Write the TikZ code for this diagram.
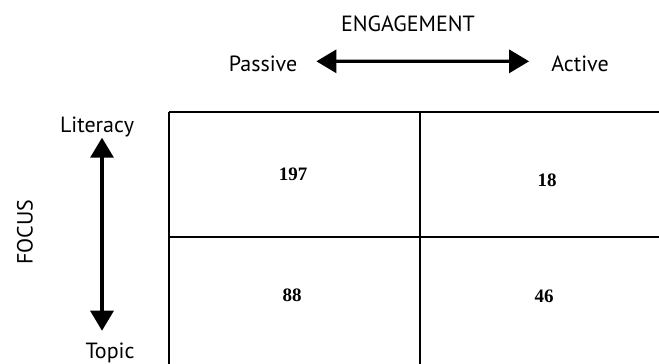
\documentclass[tikz,border=0pt]{standalone}
\usepackage{fontspec}
\setmainfont{PT Sans}
\newfontfamily\numfont{Liberation Serif}
\usetikzlibrary{arrows.meta}

\begin{document}
\begin{tikzpicture}[x=1pt,y=1pt,
    lbl/.style={inner sep=0pt,font=\fontsize{22}{26}\selectfont},
    num/.style={inner sep=0pt,font=\numfont\bfseries\fontsize{19}{22}\selectfont},
    dblarrow/.style={line width=3.3pt,{Triangle[length=20pt,width=23pt]}-{Triangle[length=20pt,width=23pt]}}]
  \useasboundingbox (0,0) rectangle (659,364);
  \clip (0,0) rectangle (659,364);

  % the grid, cut off on the right and at the bottom
  \draw[line width=1.8pt] (169,252) -- (690,252);
  \draw[line width=1.8pt] (169,127) -- (690,127);
  \draw[line width=1.8pt] (169,252) -- (169,-20);
  \draw[line width=1.8pt] (420,252) -- (420,-20);

  \node (n197) at (293,190)[num]{197};
  \node (n18) at (547,184)[num]{18};
  \node (n88) at (292,69)[num]{88};
  \node (n46) at (544,68)[num]{46};

  % engagement axis
  \node (eng) at (408,332)[lbl,anchor=base]{ENGAGEMENT};
  \node (passive) at (263,292)[lbl,anchor=base]{Passive};
  \node (active) at (580,292)[lbl,anchor=base]{Active};
  \draw[dblarrow] ([xshift=19pt,yshift=3pt]passive.east) -- ([xshift=-22pt,yshift=3pt]active.west);

  % focus axis
  \node (focus) at (25,132)[lbl,rotate=90]{FOCUS};
  \node (literacy) at (97,231)[lbl,anchor=base]{Literacy};
  \node (topic) at (110,5.5)[lbl,anchor=base]{Topic};
  \coordinate (axis) at (102,0);
  \draw[dblarrow,shorten >=12pt] (literacy.south -| axis) -- (topic.north -| axis);

\end{tikzpicture}
\end{document}
